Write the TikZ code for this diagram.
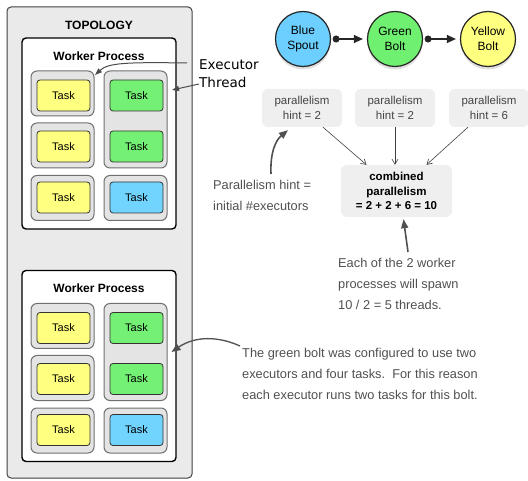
\documentclass[tikz,border=0pt]{standalone}
\usepackage{fontspec}
\setmainfont{Liberation Sans}
\newfontfamily\lucida{DejaVu Sans}
\usetikzlibrary{arrows.meta,shadows}
\definecolor{topogray}{HTML}{EAEAEA}
\definecolor{execgray}{HTML}{E4E4E4}
\definecolor{execborder}{HTML}{707070}
\definecolor{tyellow}{HTML}{FFFF80}
\definecolor{tgreen}{HTML}{74F074}
\definecolor{tblue}{HTML}{70D4FF}
\definecolor{cblue}{HTML}{6CCFFF}
\definecolor{cgreen}{HTML}{70F070}
\definecolor{cyellow}{HTML}{FFFF80}
\definecolor{hintgray}{HTML}{EFEFEF}
\definecolor{hinttext}{HTML}{444444}
\definecolor{handgray}{HTML}{505050}
\begin{document}
\begin{tikzpicture}[x=1pt,y=-1pt,
  topobox/.style={draw=black!75, fill=topogray, rounded corners=4pt, line width=1pt, inner sep=0pt},
  workerbox/.style={draw=black, fill=white, rounded corners=4pt, line width=1.4pt, inner sep=0pt, minimum width=154pt, minimum height=191pt},
  execbox/.style={draw=execborder, fill=execgray, rounded corners=6pt, line width=1pt, inner sep=0pt, minimum width=63pt},
  taskbox/.style={draw=black!80, rounded corners=3pt, line width=0.8pt, minimum width=53pt, minimum height=31pt, inner sep=0pt, font=\fontsize{11}{13}\selectfont},
  boldlabel/.style={inner sep=0pt, font=\bfseries\fontsize{12}{14}\selectfont},
  compnode/.style={circle, draw=black!85, line width=1.2pt, minimum size=55pt, inner sep=0pt, align=center, font=\fontsize{12}{15}\selectfont, drop shadow={shadow xshift=0pt, shadow yshift=-3pt, opacity=0.25}},
  hintbox/.style={fill=hintgray, rounded corners=6pt, minimum width=80pt, minimum height=38pt, inner sep=0pt, align=center, text=hinttext, font=\fontsize{11.5}{15}\selectfont},
  flowarrow/.style={draw=black!85, line width=1.2pt, shorten <=1.5pt, shorten >=4pt, {Circle[length=7pt]}-{Triangle[length=9pt,width=8pt]}},
  hintarrow/.style={draw=black!75, line width=0.6pt, -{Straight Barb[length=5pt,width=6pt]}},
  handtext/.style={inner sep=0pt, align=left, text=handgray, font=\fontsize{12.8}{21}\selectfont},
  handarrow/.style={draw=handgray, line width=1.6pt, -{Triangle[length=9pt,width=7pt]}},
  execarrow/.style={draw=black!70, line width=1pt, -{Triangle[length=7pt,width=5pt]}}
]
\useasboundingbox (0,0) rectangle (528,481);

% topology
\node[topobox, minimum width=185pt, minimum height=471pt] (topo) at (99.5,242.5) {};
\node[boldlabel] (topolabel) at (99,25) {TOPOLOGY};

\foreach \dy/\w in {0/1,232.5/2}{
  \node[workerbox] (wp\w) at (99,133.5+\dy) {};
  \node[boldlabel] (wpl\w) at (99,56+\dy) {Worker Process};
  \node[execbox, minimum height=45pt] (ea\w) at (62.5,93.5+\dy) {};
  \node[execbox, minimum height=45pt] (eb\w) at (62.5,145.5+\dy) {};
  \node[execbox, minimum height=45pt] (ec\w) at (62.5,198+\dy) {};
  \node[execbox, minimum height=97pt] (ed\w) at (135.5,119.5+\dy) {};
  \node[execbox, minimum height=45pt] (ee\w) at (135.5,198+\dy) {};
  \node[taskbox, fill=tyellow] (ta\w) at (63.5,95.5+\dy) {Task};
  \node[taskbox, fill=tyellow] (tb\w) at (63.5,146.5+\dy) {Task};
  \node[taskbox, fill=tyellow] (tc\w) at (63.5,197.5+\dy) {Task};
  \node[taskbox, fill=tgreen] (td\w) at (136.5,95.5+\dy) {Task};
  \node[taskbox, fill=tgreen] (te\w) at (136.5,146.5+\dy) {Task};
  \node[taskbox, fill=tblue] (tf\w) at (136.5,197.5+\dy) {Task};
}

% executor thread label
\node[inner sep=0pt, align=left, anchor=west, font=\lucida\fontsize{13.5}{18}\selectfont] (exlabel) at (199,74) {Executor\\Thread};
\coordinate (exs1) at (187,63);
\coordinate (exs2) at (199,84);
\coordinate (ext1) at (95,75);
\coordinate (ext2) at (172,90);
\draw[execarrow] (exs1) .. controls (125,62) and (108,63) .. (ext1);
\draw[execarrow] (exs2) -- (ext2);

% components
\node[compnode, fill=cblue] (bs) at (303,39) {Blue\\Spout};
\node[compnode, fill=cgreen] (gb) at (395,39) {Green\\Bolt};
\node[compnode, fill=cyellow] (yb) at (488,39) {Yellow\\Bolt};
\draw[flowarrow] (bs) -- (gb);
\draw[flowarrow] (gb) -- (yb);

% hints
\node[hintbox] (h1) at (302,108) {parallelism\\hint = 2};
\node[hintbox] (h2) at (395,108) {parallelism\\hint = 2};
\node[hintbox] (h3) at (489,108) {parallelism\\hint = 6};
\node[hintbox, minimum width=111pt, minimum height=52pt, text=black, font=\bfseries\fontsize{11.5}{14.5}\selectfont] (comb) at (396.5,191) {combined\\parallelism\\= 2 + 2 + 6 = 10};
\draw[hintarrow] ([xshift=21pt]h1.south) -- ([xshift=-30pt]comb.north);
\draw[hintarrow] (h2.south) -- ([xshift=-1.5pt]comb.north);
\draw[hintarrow] ([xshift=-21pt]h3.south) -- ([xshift=30pt]comb.north);

% hand annotations
\node[handtext, anchor=north west] (ptext) at (213,180) {Parallelism hint =\\initial \#executors};
\coordinate (ps) at (271,174);
\draw[handarrow] (ps) .. controls (270,152) and (276,140) .. ([xshift=-14pt,yshift=-3pt]h1.south);

\node[handtext, anchor=north west] (etext) at (338,258) {Each of the 2 worker\\processes will spawn\\10 / 2 = 5 threads.};
\coordinate (es) at (408,252);
\draw[handarrow] (es) -- ([xshift=7pt,yshift=-2pt]comb.south);

\node[handtext, anchor=north west] (gtext) at (242,348) {The green bolt was configured to use two\\executors and four tasks.\ \ For this reason\\each executor runs two tasks for this bolt.};
\coordinate (gs) at (240,346);
\draw[handarrow, line width=1.3pt] (gs) .. controls (218,336) and (195,336) .. ([xshift=4pt]ed2.east);
\end{tikzpicture}
\end{document}
